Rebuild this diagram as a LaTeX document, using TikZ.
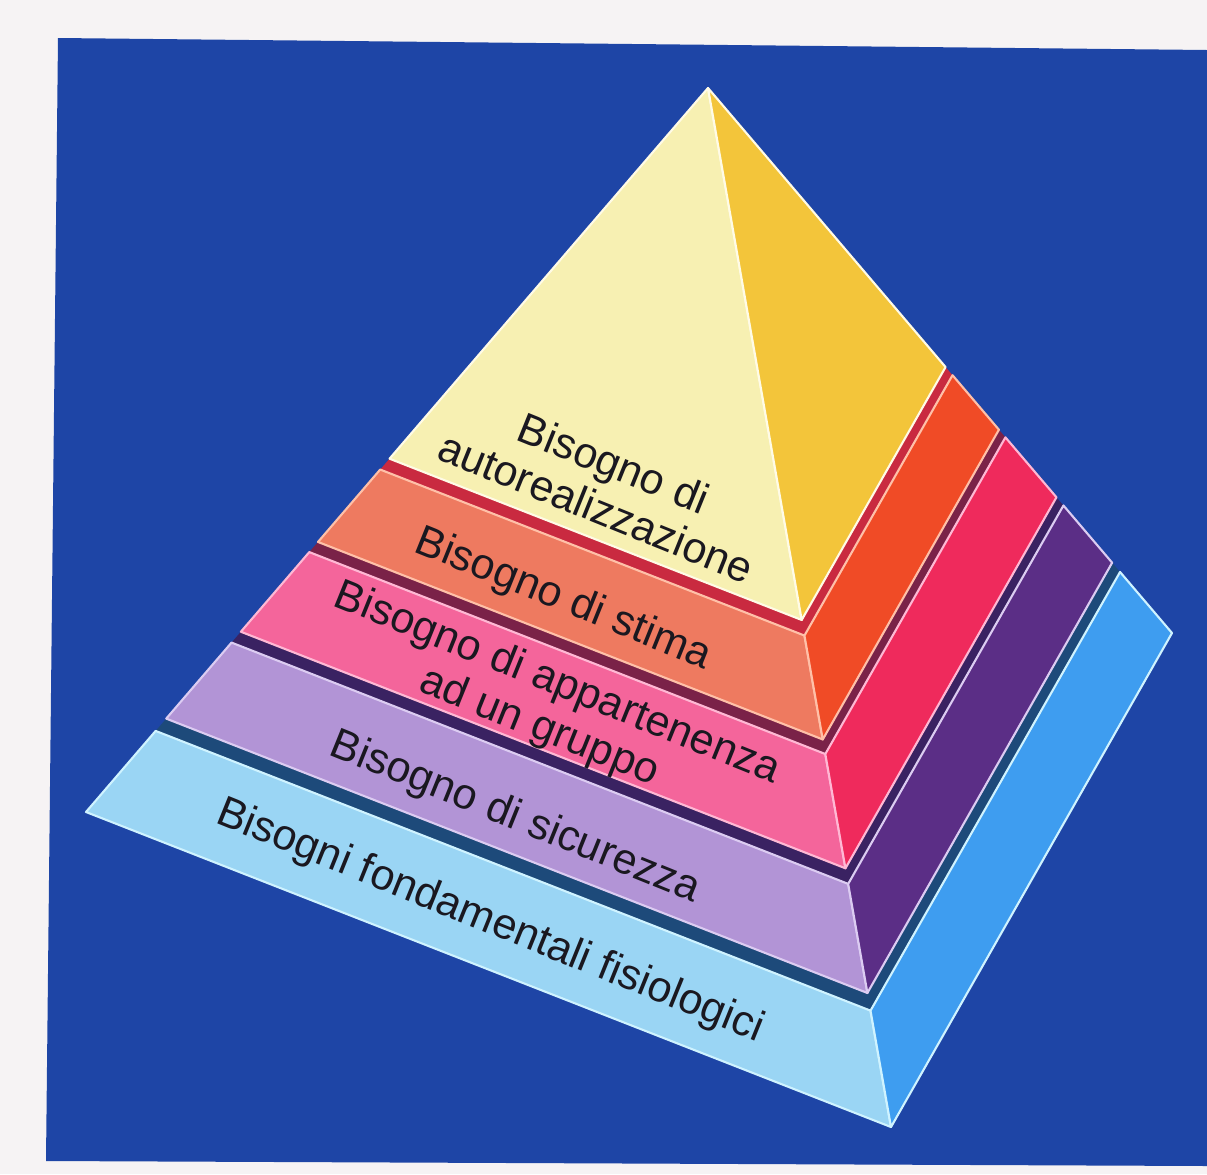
\documentclass[tikz,border=0pt]{standalone}
\usepackage{fontspec}
\setmainfont{Liberation Sans}
\usetikzlibrary{calc}
\definecolor{paper}{HTML}{F6F3F4}
\definecolor{bgblue}{HTML}{1E45A6}
\definecolor{yelL}{HTML}{F7F0B2}
\definecolor{yelR}{HTML}{F3C53A}
\definecolor{oraL}{HTML}{EE7A60}
\definecolor{oraR}{HTML}{F04B26}
\definecolor{pinL}{HTML}{F4659B}
\definecolor{pinR}{HTML}{EF2A5C}
\definecolor{purL}{HTML}{B294D6}
\definecolor{purR}{HTML}{5B2E86}
\definecolor{bluL}{HTML}{9AD5F4}
\definecolor{bluR}{HTML}{3E9DF0}
\definecolor{gapA}{HTML}{C92A40}
\definecolor{gapB}{HTML}{7A2248}
\definecolor{gapC}{HTML}{3A2262}
\definecolor{gapD}{HTML}{1D4A7A}
\definecolor{edY}{HTML}{FFFBE6}
\definecolor{edO}{HTML}{FFC0A8}
\definecolor{edP}{HTML}{FFB8D4}
\definecolor{edU}{HTML}{DCCCF2}
\definecolor{edB}{HTML}{CFF3FF}
\definecolor{ink}{HTML}{1A1820}

\newcommand\pyrband[6]{%
  \coordinate (#6tl) at ($(A)!#1!(L)$);
  \coordinate (#6tf) at ($(A)!#1!(F)$);
  \coordinate (#6tr) at ($(A)!#1!(R)$);
  \coordinate (#6bl) at ($(A)!#2!(L)$);
  \coordinate (#6bf) at ($(A)!#2!(F)$);
  \coordinate (#6br) at ($(A)!#2!(R)$);
  \filldraw[face, fill=#3, draw=#5] (#6tl) -- (#6tf) -- (#6bf) -- (#6bl) -- cycle;
  \filldraw[face, fill=#4, draw=#5] (#6tf) -- (#6tr) -- (#6br) -- (#6bf) -- cycle;
}
\newcommand\pyrgap[3]{%
  \fill[#3] ($(A)!#1!(L)$) -- ($(A)!#1!(F)$) -- ($(A)!#1!(R)$) -- ($(A)!#2!(R)$) -- ($(A)!#2!(F)$) -- ($(A)!#2!(L)$) -- cycle;
}

\begin{document}
\begin{tikzpicture}[x=0.02cm,y=-0.02cm,
  face/.style={line width=1.2pt, line join=round},
  lab/.style={text=ink, font=\fontsize{24.5}{27}\selectfont, align=center, rotate=-22, inner sep=0pt}]
\useasboundingbox (0,0) rectangle (1207,1174);
\fill[paper] (0,0) rectangle (1207,1174);
\fill[bgblue] (58,38) -- (1207,50) -- (1207,1166) -- (46,1161) -- cycle;

\coordinate (A) at (708,88);
\coordinate (L) at (86,812);
\coordinate (F) at (891,1127);
\coordinate (R) at (1172,633);

\pyrgap{0.510}{0.529}{gapA}
\pyrgap{0.625}{0.643}{gapB}
\pyrgap{0.749}{0.767}{gapC}
\pyrgap{0.869}{0.889}{gapD}

\pyrband{0}{0.512}{yelL}{yelR}{edY}{y}
\pyrband{0.527}{0.627}{oraL}{oraR}{edO}{o}
\pyrband{0.641}{0.751}{pinL}{pinR}{edP}{p}
\pyrband{0.766}{0.871}{purL}{purR}{edU}{u}
\pyrband{0.888}{1}{bluL}{bluR}{edB}{b}

\node[lab] (n1) at (605,485) {Bisogno di\\autorealizzazione};
\node[lab] (n2) at (563,600) {Bisogno di stima};
\node[lab] (n3) at (548,706) {Bisogno di appartenenza\\ad un gruppo};
\node[lab] (n4) at (515,818) {Bisogno di sicurezza};
\node[lab] (n5) at (490,922) {Bisogni fondamentali fisiologici};
\end{tikzpicture}
\end{document}
